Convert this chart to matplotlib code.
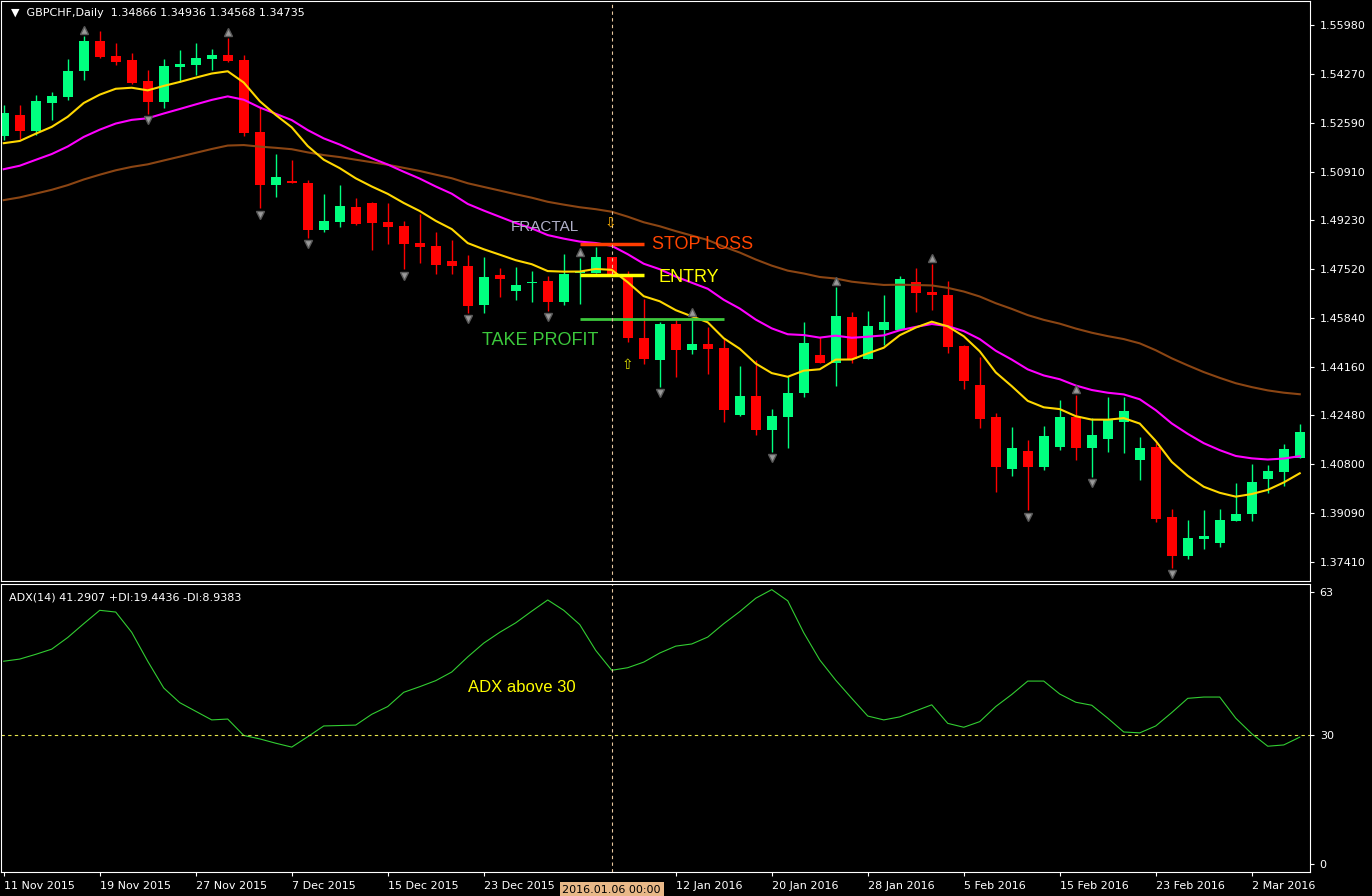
import matplotlib
matplotlib.use('Agg')
import matplotlib.pyplot as plt
import numpy as np
import pandas as pd

# GBPCHF daily candles
opens = [1.5213, 1.5286, 1.5231, 1.5328, 1.5348, 1.5438, 1.5542, 1.5490, 1.5476, 1.5404,
         1.5331, 1.5452, 1.5459, 1.5480, 1.5494, 1.5476, 1.5227, 1.5044, 1.5058, 1.5051,
         1.4888, 1.4916, 1.4968, 1.4982, 1.4916, 1.4902, 1.4843, 1.4833, 1.4781, 1.4764,
         1.4629, 1.4733, 1.4677, 1.4705, 1.4712, 1.4639, 1.4739, 1.4739, 1.4795, 1.4729,
         1.4515, 1.4438, 1.4563, 1.4473, 1.4494, 1.4480, 1.4248, 1.4314, 1.4196, 1.4241,
         1.4324, 1.4456, 1.4428, 1.4587, 1.4442, 1.4542, 1.4542, 1.4708, 1.4674, 1.4663,
         1.4487, 1.4352, 1.4241, 1.4061, 1.4124, 1.4068, 1.4137, 1.4241, 1.4134, 1.4165,
         1.4224, 1.4093, 1.4137, 1.3895, 1.3760, 1.3819, 1.3805, 1.3881, 1.3906, 1.4027,
         1.4051, 1.4099]
highs = [1.5321, 1.5321, 1.5355, 1.5366, 1.5480, 1.5559, 1.5577, 1.5535, 1.5501, 1.5442,
         1.5480, 1.5511, 1.5535, 1.5514, 1.5553, 1.5494, 1.5314, 1.5151, 1.5130, 1.5061,
         1.5013, 1.5044, 1.4999, 1.4985, 1.4982, 1.4919, 1.4944, 1.4881, 1.4854, 1.4801,
         1.4795, 1.4757, 1.4760, 1.4746, 1.4729, 1.4805, 1.4791, 1.4829, 1.4795, 1.4746,
         1.4649, 1.4570, 1.4584, 1.4584, 1.4553, 1.4511, 1.4418, 1.4438, 1.4269, 1.4383,
         1.4570, 1.4518, 1.4691, 1.4604, 1.4608, 1.4663, 1.4729, 1.4757, 1.4771, 1.4712,
         1.4490, 1.4449, 1.4255, 1.4206, 1.4162, 1.4210, 1.4300, 1.4317, 1.4238, 1.4310,
         1.4310, 1.4172, 1.4151, 1.3923, 1.3885, 1.3919, 1.3923, 1.4013, 1.4079, 1.4075,
         1.4148, 1.4217]
lows = [1.5200, 1.5203, 1.5217, 1.5269, 1.5338, 1.5407, 1.5483, 1.5459, 1.5393, 1.5290,
        1.5310, 1.5400, 1.5424, 1.5442, 1.5469, 1.5213, 1.4964, 1.5002, 1.5051, 1.4861,
        1.4880, 1.4899, 1.4905, 1.4819, 1.4840, 1.4753, 1.4774, 1.4736, 1.4736, 1.4601,
        1.4601, 1.4656, 1.4646, 1.4639, 1.4608, 1.4629, 1.4632, 1.4739, 1.4733, 1.4501,
        1.4424, 1.4345, 1.4380, 1.4459, 1.4390, 1.4224, 1.4245, 1.4179, 1.4120, 1.4134,
        1.4310, 1.4428, 1.4348, 1.4428, 1.4442, 1.4490, 1.4542, 1.4604, 1.4611, 1.4463,
        1.4338, 1.4203, 1.3982, 1.4037, 1.3919, 1.4058, 1.4127, 1.4093, 1.4034, 1.4120,
        1.4117, 1.4023, 1.3878, 1.3719, 1.3750, 1.3784, 1.3791, 1.3881, 1.3881, 1.3978,
        1.4002, 1.4099]
closes = [1.5293, 1.5231, 1.5335, 1.5352, 1.5438, 1.5542, 1.5487, 1.5469, 1.5397, 1.5331,
          1.5456, 1.5463, 1.5483, 1.5494, 1.5473, 1.5224, 1.5044, 1.5072, 1.5051, 1.4888,
          1.4919, 1.4971, 1.4909, 1.4912, 1.4899, 1.4840, 1.4829, 1.4767, 1.4764, 1.4625,
          1.4726, 1.4719, 1.4698, 1.4708, 1.4639, 1.4736, 1.4746, 1.4795, 1.4736, 1.4515,
          1.4442, 1.4563, 1.4473, 1.4494, 1.4476, 1.4265, 1.4314, 1.4196, 1.4245, 1.4324,
          1.4497, 1.4428, 1.4591, 1.4442, 1.4556, 1.4570, 1.4719, 1.4670, 1.4663, 1.4483,
          1.4366, 1.4234, 1.4068, 1.4134, 1.4068, 1.4175, 1.4241, 1.4134, 1.4179, 1.4231,
          1.4262, 1.4134, 1.3888, 1.3760, 1.3822, 1.3829, 1.3885, 1.3906, 1.4016, 1.4054,
          1.4131, 1.4189]

# ADX(14) per bar
adx = [47.0, 47.5, 48.6, 49.8, 52.5, 55.7, 58.8, 58.4, 53.7, 47.0,
       40.8, 37.4, 35.4, 33.4, 33.6, 29.8, 29.0, 28.0, 27.1, 29.5,
       32.0, 32.1, 32.2, 34.7, 36.5, 39.8, 41.1, 42.5, 44.5, 48.0,
       51.2, 53.7, 55.9, 58.6, 61.2, 58.8, 55.5, 49.5, 44.9, 45.5,
       46.8, 48.9, 50.5, 51.0, 52.6, 55.7, 58.5, 61.6, 63.6, 61.0,
       53.6, 47.3, 42.6, 38.4, 34.3, 33.4, 34.1, 35.5, 36.9, 32.6,
       31.7, 33.0, 36.5, 39.3, 42.4, 42.4, 39.4, 37.5, 36.8, 33.8,
       30.6, 30.4, 32.0, 35.1, 38.4, 38.7, 38.7, 33.8, 30.2, 27.3,
       27.6, 29.4]

# moving averages: (period, value at first bar, colour)
mas = [(50, 1.4992, '#8B4513'), (21, 1.5099, '#FF00FF'), (10, 1.5189, '#FFD700')]

up_fractals = [5, 14, 36, 43, 52, 58, 67]
down_fractals = [9, 16, 19, 25, 29, 34, 41, 48, 64, 68, 73]

price_ticks = [1.55980, 1.54270, 1.52590, 1.50910, 1.49230, 1.47520,
               1.45840, 1.44160, 1.42480, 1.40800, 1.39090, 1.37410]
adx_ticks = [0, 30, 63]

stop_loss = 1.4840
entry = 1.4733
take_profit = 1.4580
signal_bar = 38

dates = pd.bdate_range('2015-11-11', periods=90)
dates = dates[~dates.isin(pd.to_datetime(['2015-12-25', '2016-01-01']))][:len(closes)]

n = len(closes)
x = np.arange(n)

W, H = 1372, 896
fig = plt.figure(figsize=(W / 100, H / 100), dpi=100, facecolor='black')
def box(l, t, r, b):
    return [l / W, 1 - b / H, (r - l) / W, (b - t) / H]
ax = fig.add_axes(box(1, 1, 1310, 581))
ax2 = fig.add_axes(box(1, 584, 1310, 872))

for a in (ax, ax2):
    a.set_facecolor('black')
    for s in a.spines.values():
        s.set_color('white')
    a.set_xlim(-0.17, 81.64)
    a.yaxis.tick_right()
    a.tick_params(axis='y', colors='white', labelsize=8, length=3, pad=4)
    a.tick_params(axis='x', colors='white', length=3, labelsize=8)

# candles
for i in x:
    up = closes[i] >= opens[i]
    c = '#00FF7F' if up else '#FF0000'
    ax.vlines(i, lows[i], highs[i], color=c, linewidth=1)
    lo, hi = min(opens[i], closes[i]), max(opens[i], closes[i])
    ax.bar(i, max(hi - lo, 0.0004), bottom=lo, width=0.64, color=c, linewidth=0)

# EMAs seeded at first visible value
for period, start, color in mas:
    k = 2 / (period + 1)
    vals = [start]
    for cl in closes[1:]:
        vals.append(vals[-1] + k * (cl - vals[-1]))
    ax.plot(x, vals, color=color, linewidth=1.5)

off = 0.0022
ax.plot(up_fractals, [highs[i] + off for i in up_fractals], '^', color='#9A9A9A',
        markersize=6, markeredgecolor='#5A5A5A')
ax.plot(down_fractals, [lows[i] - off for i in down_fractals], 'v', color='#9A9A9A',
        markersize=6, markeredgecolor='#5A5A5A')

ax.set_ylim(1.3674, 1.5681)
ax.set_yticks(price_ticks)
ax.set_yticklabels(['%.5f' % t for t in price_ticks])
ax.set_xticks([])

# trade levels
ax.hlines(stop_loss, 36, 40, color='#FF3C00', linewidth=2.5)
ax.hlines(entry, 36, 40, color='#FFFF00', linewidth=2.5)
ax.hlines(take_profit, 36, 45, color='#3CC83C', linewidth=2)
ax.text(40.5, stop_loss, 'STOP LOSS', color='#FF4500', fontsize=13, va='center',
        family='Liberation Sans')
ax.text(40.9, entry - 0.0008, 'ENTRY', color='#FFFF00', fontsize=13, va='center',
        family='Liberation Sans')
ax.text(29.9, take_profit - 0.0074, 'TAKE PROFIT', color='#3CC83C', fontsize=13,
        va='center', family='Liberation Sans')
ax.text(31.7, 1.4900, 'FRACTAL', color='#B0B0C8', fontsize=11, va='center',
        family='Liberation Sans')
ax.text(signal_bar - 0.1, 1.4915, '⇩', color='#FFB000', fontsize=10, ha='center', va='center')
ax.text(signal_bar + 0.95, 1.4420, '⇧', color='#E0E000', fontsize=10, ha='center', va='center')
ax.text(0.008, 0.988, '▼  GBPCHF,Daily  1.34866 1.34936 1.34568 1.34735', color='white',
        fontsize=8, transform=ax.transAxes, va='top')

# ADX panel
ax2.plot(x, adx, color='#32CD32', linewidth=0.8)
ax2.axhline(30, color='#E6E64C', linestyle=(0, (3, 3)), linewidth=0.8)
ax2.set_ylim(-1.85, 64.9)
ax2.set_yticks(adx_ticks)
ax2.set_yticklabels([str(t) for t in adx_ticks])
ax2.text(0.006, 0.97, 'ADX(14) 41.2907 +DI:19.4436 -DI:8.9383', color='white', fontsize=8,
         transform=ax2.transAxes, va='top')
ax2.text(29, 41, 'ADX above 30', color='#FFFF00', fontsize=12, va='center',
         family='Liberation Sans')

tick_idx = [i for i in range(0, n, 6) if i != 36]
ax2.set_xticks(tick_idx)
ax2.set_xticklabels([f'{dates[i].day} {dates[i]:%b %Y}' for i in tick_idx], ha='left')
ax2.text(signal_bar, -0.045, dates[signal_bar].strftime('%Y.%m.%d 00:00'), color='black',
         fontsize=8, ha='center', va='top', transform=ax2.get_xaxis_transform(),
         bbox=dict(facecolor='#E8B888', edgecolor='none', pad=2))

for a in (ax, ax2):
    a.axvline(signal_bar, color='#E8C8A0', linestyle=(0, (3, 3)), linewidth=0.8)

fig.savefig('out.png', dpi=100, facecolor='black')
